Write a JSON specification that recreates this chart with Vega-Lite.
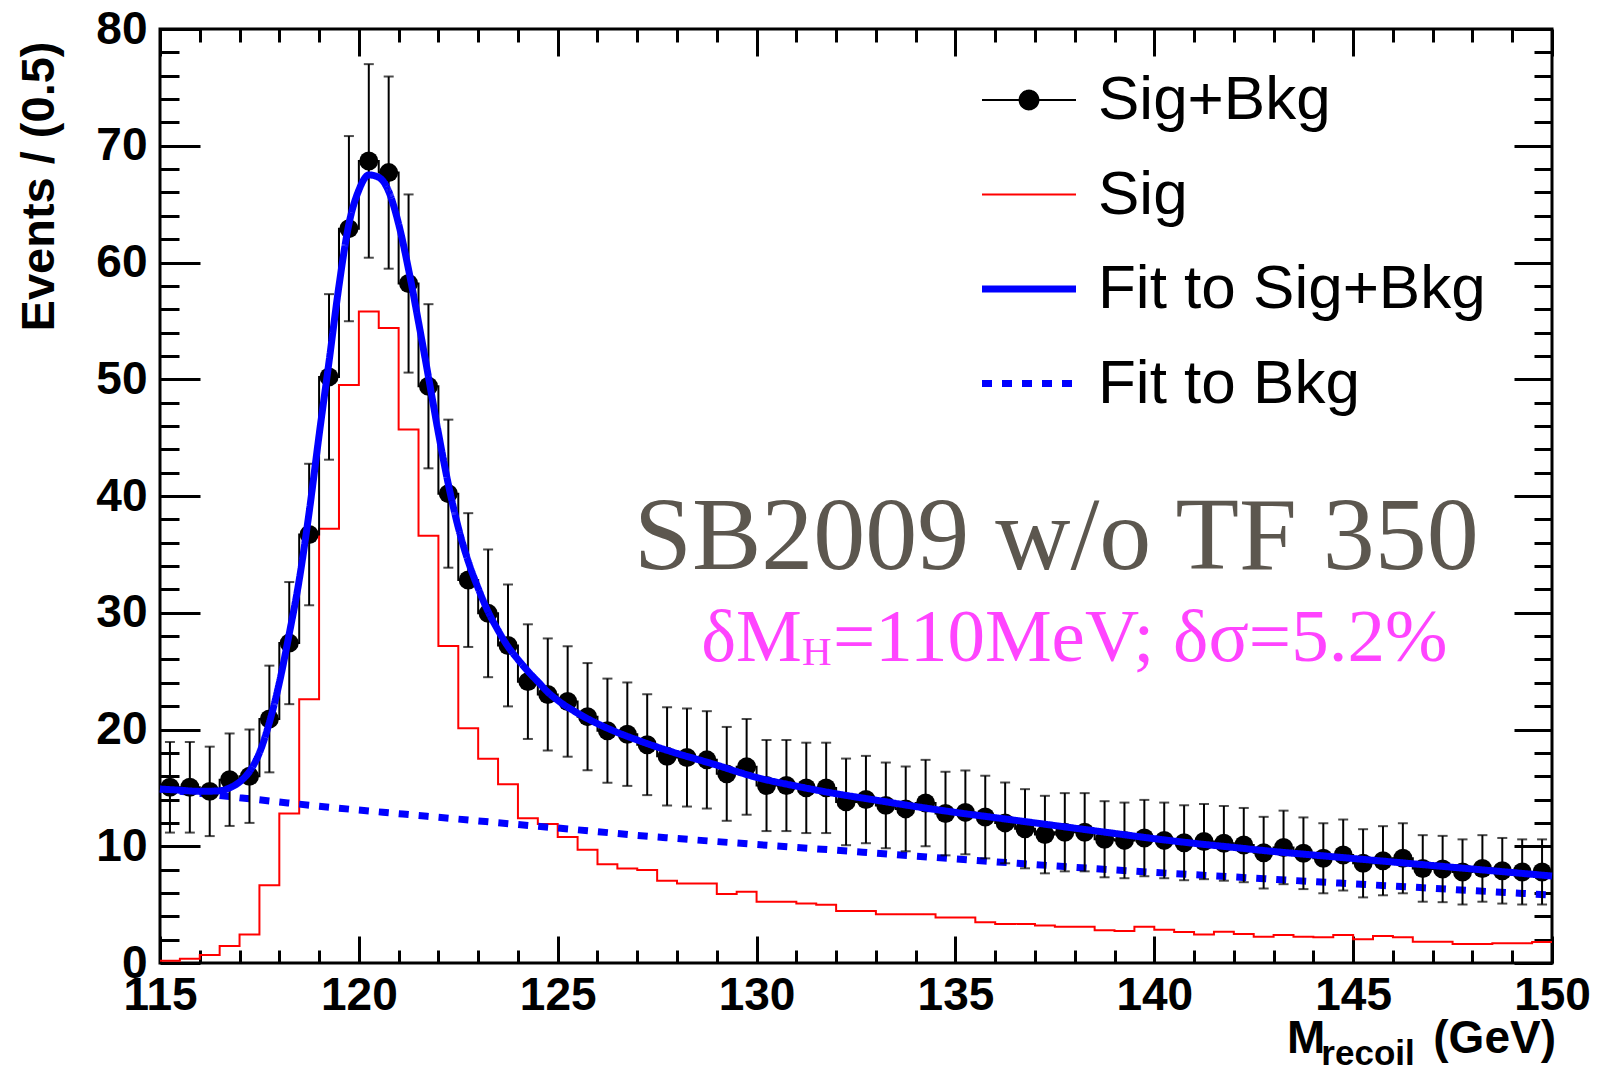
{
  "$schema": "https://vega.github.io/schema/vega-lite/v6.json",
  "width": 1392,
  "height": 934,
  "autosize": "none",
  "padding": {"left": 160, "top": 29, "right": 55, "bottom": 110},
  "background": "white",
  "config": {
    "view": {"stroke": "black", "strokeWidth": 3, "fill": "white"},
    "axis": {"grid": false}
  },
  "datasets": {
    "pts": [
      {"m":115.25,"n":15.05,"err":3.88},{"m":115.75,"n":15.05,"err":3.88},{"m":116.25,"n":14.7,"err":3.83},{"m":116.75,"n":15.7,"err":3.96},
      {"m":117.25,"n":16.0,"err":4.0},{"m":117.75,"n":20.9,"err":4.57},{"m":118.25,"n":27.4,"err":5.23},{"m":118.75,"n":36.7,"err":6.06},
      {"m":119.25,"n":50.2,"err":7.09},{"m":119.75,"n":62.9,"err":7.93},{"m":120.25,"n":68.7,"err":8.29},{"m":120.75,"n":67.7,"err":8.23},
      {"m":121.25,"n":58.2,"err":7.63},{"m":121.75,"n":49.4,"err":7.03},{"m":122.25,"n":40.2,"err":6.34},{"m":122.75,"n":32.8,"err":5.73},
      {"m":123.25,"n":29.95,"err":5.47},{"m":123.75,"n":27.2,"err":5.22},{"m":124.25,"n":24.1,"err":4.91},{"m":124.75,"n":23.0,"err":4.8},
      {"m":125.25,"n":22.4,"err":4.73},{"m":125.75,"n":21.1,"err":4.59},{"m":126.25,"n":19.9,"err":4.46},{"m":126.75,"n":19.6,"err":4.43},
      {"m":127.25,"n":18.7,"err":4.32},{"m":127.75,"n":17.7,"err":4.21},{"m":128.25,"n":17.6,"err":4.2},{"m":128.75,"n":17.4,"err":4.17},
      {"m":129.25,"n":16.2,"err":4.02},{"m":129.75,"n":16.8,"err":4.1},{"m":130.25,"n":15.2,"err":3.9},{"m":130.75,"n":15.2,"err":3.9},
      {"m":131.25,"n":15.0,"err":3.87},{"m":131.75,"n":15.0,"err":3.87},{"m":132.25,"n":13.8,"err":3.71},{"m":132.75,"n":14.0,"err":3.74},
      {"m":133.25,"n":13.5,"err":3.67},{"m":133.75,"n":13.2,"err":3.63},{"m":134.25,"n":13.7,"err":3.7},{"m":134.75,"n":12.8,"err":3.58},
      {"m":135.25,"n":12.9,"err":3.59},{"m":135.75,"n":12.5,"err":3.54},{"m":136.25,"n":12.0,"err":3.46},{"m":136.75,"n":11.5,"err":3.39},
      {"m":137.25,"n":11.0,"err":3.32},{"m":137.75,"n":11.2,"err":3.35},{"m":138.25,"n":11.2,"err":3.35},{"m":138.75,"n":10.6,"err":3.26},
      {"m":139.25,"n":10.5,"err":3.24},{"m":139.75,"n":10.7,"err":3.27},{"m":140.25,"n":10.5,"err":3.24},{"m":140.75,"n":10.3,"err":3.21},
      {"m":141.25,"n":10.4,"err":3.22},{"m":141.75,"n":10.25,"err":3.2},{"m":142.25,"n":10.1,"err":3.18},{"m":142.75,"n":9.45,"err":3.07},
      {"m":143.25,"n":9.9,"err":3.15},{"m":143.75,"n":9.4,"err":3.07},{"m":144.25,"n":8.97,"err":3.0},{"m":144.75,"n":9.25,"err":3.04},
      {"m":145.25,"n":8.54,"err":2.92},{"m":145.75,"n":8.76,"err":2.96},{"m":146.25,"n":8.97,"err":3.0},{"m":146.75,"n":8.1,"err":2.85},
      {"m":147.25,"n":8.05,"err":2.84},{"m":147.75,"n":7.8,"err":2.79},{"m":148.25,"n":8.1,"err":2.85},{"m":148.75,"n":7.9,"err":2.81},
      {"m":149.25,"n":7.8,"err":2.79},{"m":149.75,"n":7.8,"err":2.79}
    ],
    "sig": [
      {"lo":115.0,"s":0.2},{"lo":115.5,"s":0.37},{"lo":116.0,"s":0.68},{"lo":116.5,"s":1.46},{"lo":117.0,"s":2.45},{"lo":117.5,"s":6.65},
      {"lo":118.0,"s":12.8},{"lo":118.5,"s":22.6},{"lo":119.0,"s":37.2},{"lo":119.5,"s":49.5},{"lo":120.0,"s":55.8},{"lo":120.5,"s":54.4},
      {"lo":121.0,"s":45.7},{"lo":121.5,"s":36.6},{"lo":122.0,"s":27.15},{"lo":122.5,"s":20.1},{"lo":123.0,"s":17.5},{"lo":123.5,"s":15.3},
      {"lo":124.0,"s":12.4},{"lo":124.5,"s":11.9},{"lo":125.0,"s":10.8},{"lo":125.5,"s":9.7},{"lo":126.0,"s":8.45},{"lo":126.5,"s":8.1},
      {"lo":127.0,"s":7.97},{"lo":127.5,"s":7.05},{"lo":128.0,"s":6.8},{"lo":128.5,"s":6.8},{"lo":129.0,"s":5.9},{"lo":129.5,"s":6.1},
      {"lo":130.0,"s":5.25},{"lo":130.5,"s":5.25},{"lo":131.0,"s":5.1},{"lo":131.5,"s":5.0},{"lo":132.0,"s":4.45},{"lo":132.5,"s":4.45},
      {"lo":133.0,"s":4.17},{"lo":133.5,"s":4.17},{"lo":134.0,"s":4.17},{"lo":134.5,"s":3.9},{"lo":135.0,"s":3.9},{"lo":135.5,"s":3.5},
      {"lo":136.0,"s":3.34},{"lo":136.5,"s":3.34},{"lo":137.0,"s":3.22},{"lo":137.5,"s":3.1},{"lo":138.0,"s":3.1},{"lo":138.5,"s":2.8},
      {"lo":139.0,"s":2.75},{"lo":139.5,"s":3.1},{"lo":140.0,"s":2.85},{"lo":140.5,"s":2.65},{"lo":141.0,"s":2.45},{"lo":141.5,"s":2.68},
      {"lo":142.0,"s":2.48},{"lo":142.5,"s":2.25},{"lo":143.0,"s":2.4},{"lo":143.5,"s":2.25},{"lo":144.0,"s":2.2},{"lo":144.5,"s":2.4},
      {"lo":145.0,"s":2.03},{"lo":145.5,"s":2.31},{"lo":146.0,"s":2.2},{"lo":146.5,"s":1.83},{"lo":147.0,"s":1.83},{"lo":147.5,"s":1.63},
      {"lo":148.0,"s":1.63},{"lo":148.5,"s":1.69},{"lo":149.0,"s":1.69},{"lo":149.5,"s":1.8},{"lo":150.0,"s":1.8}
    ],
    "fit": [
      {"m":115,"f":14.9},{"m":115.5,"f":14.8},{"m":116,"f":14.7},{"m":116.5,"f":14.75},{"m":116.75,"f":15.0},{"m":117,"f":15.5},
      {"m":117.25,"f":16.4},{"m":117.5,"f":18.0},{"m":117.75,"f":20.6},{"m":118,"f":24.0},{"m":118.25,"f":28.2},{"m":118.5,"f":32.8},
      {"m":118.75,"f":38.6},{"m":119,"f":45.2},{"m":119.25,"f":51.5},{"m":119.5,"f":58.0},{"m":119.75,"f":63.3},{"m":120,"f":66.2},
      {"m":120.25,"f":67.5},{"m":120.5,"f":67.3},{"m":120.75,"f":66.1},{"m":121,"f":63.3},{"m":121.25,"f":59.4},{"m":121.5,"f":54.9},
      {"m":121.75,"f":50.2},{"m":122,"f":45.4},{"m":122.25,"f":41.0},{"m":122.5,"f":37.3},{"m":122.75,"f":34.4},{"m":123,"f":32.1},
      {"m":123.25,"f":30.1},{"m":123.5,"f":28.5},{"m":123.75,"f":27.1},{"m":124,"f":26.0},{"m":124.25,"f":25.0},{"m":124.5,"f":24.1},
      {"m":124.75,"f":23.2},{"m":125,"f":22.5},{"m":125.5,"f":21.4},{"m":126,"f":20.5},{"m":126.5,"f":19.75},{"m":127,"f":19.1},
      {"m":127.5,"f":18.5},{"m":128,"f":17.95},{"m":128.5,"f":17.45},{"m":129,"f":16.95},{"m":129.5,"f":16.4},{"m":130,"f":15.9},
      {"m":131,"f":15.15},{"m":132,"f":14.5},{"m":133,"f":13.95},{"m":134,"f":13.4},{"m":135,"f":12.9},{"m":136,"f":12.45},
      {"m":137,"f":12.0},{"m":138,"f":11.55},{"m":139,"f":11.1},{"m":140,"f":10.65},{"m":141,"f":10.25},{"m":142,"f":9.9},
      {"m":143,"f":9.55},{"m":144,"f":9.25},{"m":145,"f":8.95},{"m":146,"f":8.65},{"m":147,"f":8.35},{"m":148,"f":8.05},
      {"m":149,"f":7.75},{"m":150,"f":7.45}
    ],
    "bkg": [
      {"m":115,"b":14.9},{"m":116,"b":14.53},{"m":117,"b":14.16},{"m":118,"b":13.79},{"m":119,"b":13.43},{"m":120,"b":13.1},
      {"m":121,"b":12.79},{"m":122,"b":12.48},{"m":123,"b":12.17},{"m":124,"b":11.86},{"m":125,"b":11.56},{"m":126,"b":11.25},
      {"m":127,"b":10.93},{"m":128,"b":10.66},{"m":129,"b":10.4},{"m":130,"b":10.15},{"m":131,"b":9.9},{"m":132,"b":9.66},
      {"m":133,"b":9.41},{"m":134,"b":9.16},{"m":135,"b":8.91},{"m":136,"b":8.67},{"m":137,"b":8.43},{"m":138,"b":8.2},
      {"m":139,"b":7.97},{"m":140,"b":7.76},{"m":141,"b":7.56},{"m":142,"b":7.37},{"m":143,"b":7.17},{"m":144,"b":6.97},
      {"m":145,"b":6.78},{"m":146,"b":6.59},{"m":147,"b":6.4},{"m":148,"b":6.2},{"m":149,"b":6.01},{"m":150,"b":5.82}
    ],
    "one": [{}]
  },
  "layer": [
    {
      "data": {"name": "sig"},
      "mark": {"type": "line", "interpolate": "step-after", "strokeWidth": 2},
      "encoding": {
        "x": {"field": "lo", "type": "quantitative",
          "scale": {"domain": [115, 150], "nice": false, "zero": false},
          "axis": {"orient": "bottom", "title": null, "domain": false, "grid": false,
            "values": [115,116,117,118,119,120,121,122,123,124,125,126,127,128,129,130,131,132,133,134,135,136,137,138,139,140,141,142,143,144,145,146,147,148,149,150],
            "tickColor": "black", "tickWidth": 3,
            "tickSize": {"condition": {"test": "datum.value % 5 === 0", "value": -27}, "value": -13},
            "labelExpr": "datum.value % 5 === 0 ? datum.label : ''",
            "labelFont": "Liberation Sans", "labelFontWeight": "bold", "labelFontSize": 46, "labelColor": "black",
            "labelPadding": 37, "labelOverlap": false, "labelFlush": false, "labelBound": false}},
        "y": {"field": "s", "type": "quantitative",
          "scale": {"domain": [0, 80], "nice": false, "zero": false},
          "axis": {"orient": "left", "domain": false, "grid": false,
            "values": [0,2,4,6,8,10,12,14,16,18,20,22,24,26,28,30,32,34,36,38,40,42,44,46,48,50,52,54,56,58,60,62,64,66,68,70,72,74,76,78,80],
            "tickColor": "black", "tickWidth": 3,
            "tickSize": {"condition": {"test": "datum.value % 10 === 0", "value": -40}, "value": -19},
            "labelExpr": "datum.value % 10 === 0 ? datum.label : ''",
            "labelFont": "Liberation Sans", "labelFontWeight": "bold", "labelFontSize": 46, "labelColor": "black",
            "labelPadding": 53, "labelOverlap": false, "labelFlush": false, "labelBound": false,
            "title": "Events / (0.5)", "titleFont": "Liberation Sans", "titleFontWeight": "bold", "titleFontSize": 47,
            "titleColor": "black", "titleAngle": 270, "titleAlign": "right", "titleBaseline": "alphabetic",
            "titleX": -107, "titleY": 12}},
        "color": {"datum": "Sig", "type": "nominal",
          "scale": {"domain": ["Sig+Bkg", "Sig", "Fit to Sig+Bkg", "Fit to Bkg"], "range": ["black", "#ff0000", "#0000ff", "#0000ff"]},
          "legend": {"orient": "none", "legendX": 838, "legendY": 40, "title": null, "symbolType": "stroke",
            "symbolSize": 8836, "labelFont": "Liberation Sans", "labelFontSize": 62, "labelColor": "black",
            "labelOffset": 38, "labelLimit": 0, "rowPadding": 32.5, "padding": 0, "labelBaseline": "middle",
            "encode": {"symbols": {"update": {
              "shape": {"signal": "datum.value === 'Sig+Bkg' ? 'M-1,0L1,0M0.2,0A0.2,0.2,0,1,1,-0.2,0A0.2,0.2,0,1,1,0.2,0Z' : 'stroke'"},
              "fill": {"signal": "datum.value === 'Sig+Bkg' ? 'black' : 'transparent'"},
              "strokeWidth": {"signal": "datum.value === 'Fit to Sig+Bkg' ? 7 : (datum.value === 'Fit to Bkg' ? 7 : 2)"}
            }}}}},
        "strokeDash": {"datum": "Sig", "type": "nominal",
          "scale": {"domain": ["Sig+Bkg", "Sig", "Fit to Sig+Bkg", "Fit to Bkg"], "range": [[1, 0], [1, 0], [1, 0], [10, 10]]}}
      }
    },
    {
      "data": {"name": "bkg"},
      "mark": {"type": "line", "interpolate": "monotone", "strokeWidth": 7},
      "encoding": {
        "x": {"field": "m", "type": "quantitative",
          "axis": {"orient": "top", "title": null, "domain": false, "grid": false, "labels": false,
            "values": [115,116,117,118,119,120,121,122,123,124,125,126,127,128,129,130,131,132,133,134,135,136,137,138,139,140,141,142,143,144,145,146,147,148,149,150],
            "tickColor": "black", "tickWidth": 3,
            "tickSize": {"condition": {"test": "datum.value % 5 === 0", "value": -27}, "value": -13}}},
        "y": {"field": "b", "type": "quantitative",
          "axis": {"orient": "right", "title": null, "domain": false, "grid": false, "labels": false,
            "values": [0,2,4,6,8,10,12,14,16,18,20,22,24,26,28,30,32,34,36,38,40,42,44,46,48,50,52,54,56,58,60,62,64,66,68,70,72,74,76,78,80],
            "tickColor": "black", "tickWidth": 3,
            "tickSize": {"condition": {"test": "datum.value % 10 === 0", "value": -38}, "value": -18}}},
        "color": {"datum": "Fit to Bkg", "type": "nominal",
          "scale": {"domain": ["Sig+Bkg", "Sig", "Fit to Sig+Bkg", "Fit to Bkg"], "range": ["black", "#ff0000", "#0000ff", "#0000ff"]}},
        "strokeDash": {"datum": "Fit to Bkg", "type": "nominal",
          "scale": {"domain": ["Sig+Bkg", "Sig", "Fit to Sig+Bkg", "Fit to Bkg"], "range": [[1, 0], [1, 0], [1, 0], [10, 10]]}}
      }
    },
    {
      "data": {"name": "pts"},
      "mark": {"type": "line", "interpolate": "step", "strokeWidth": 2},
      "encoding": {
        "x": {"field": "m", "type": "quantitative", "axis": null},
        "y": {"field": "n", "type": "quantitative", "axis": null},
        "color": {"datum": "Sig+Bkg", "type": "nominal",
          "scale": {"domain": ["Sig+Bkg", "Sig", "Fit to Sig+Bkg", "Fit to Bkg"], "range": ["black", "#ff0000", "#0000ff", "#0000ff"]}},
        "strokeDash": {"datum": "Sig+Bkg", "type": "nominal",
          "scale": {"domain": ["Sig+Bkg", "Sig", "Fit to Sig+Bkg", "Fit to Bkg"], "range": [[1, 0], [1, 0], [1, 0], [10, 10]]}}
      }
    },
    {
      "data": {"name": "pts"},
      "mark": {"type": "errorbar", "ticks": {"size": 10, "thickness": 2, "color": "black"}, "rule": {"strokeWidth": 2, "color": "black"}},
      "encoding": {
        "x": {"field": "m", "type": "quantitative", "axis": null},
        "y": {"field": "n", "type": "quantitative", "axis": null},
        "yError": {"field": "err"}
      }
    },
    {
      "data": {"name": "pts"},
      "mark": {"type": "circle", "size": 360, "color": "black", "opacity": 1},
      "encoding": {
        "x": {"field": "m", "type": "quantitative", "axis": null},
        "y": {"field": "n", "type": "quantitative", "axis": null}
      }
    },
    {
      "data": {"name": "fit"},
      "mark": {"type": "line", "interpolate": "monotone", "strokeWidth": 7},
      "encoding": {
        "x": {"field": "m", "type": "quantitative", "axis": null},
        "y": {"field": "f", "type": "quantitative", "axis": null},
        "color": {"datum": "Fit to Sig+Bkg", "type": "nominal",
          "scale": {"domain": ["Sig+Bkg", "Sig", "Fit to Sig+Bkg", "Fit to Bkg"], "range": ["black", "#ff0000", "#0000ff", "#0000ff"]}},
        "strokeDash": {"datum": "Fit to Sig+Bkg", "type": "nominal",
          "scale": {"domain": ["Sig+Bkg", "Sig", "Fit to Sig+Bkg", "Fit to Bkg"], "range": [[1, 0], [1, 0], [1, 0], [10, 10]]}}
      }
    },
    {
      "data": {"name": "one"},
      "mark": {"type": "text", "text": "SB2009 w/o TF 350", "font": "Liberation Serif", "fontSize": 104, "color": "#5c574f", "align": "left", "baseline": "alphabetic"},
      "encoding": {
        "x": {"datum": 126.92, "type": "quantitative", "axis": null},
        "y": {"datum": 33.75, "type": "quantitative", "axis": null}
      }
    },
    {
      "data": {"name": "one"},
      "mark": {"type": "text", "text": "δM", "font": "Liberation Serif", "fontSize": 74, "color": "#ff44ff", "align": "right", "baseline": "alphabetic"},
      "encoding": {
        "x": {"datum": 131.14, "type": "quantitative", "axis": null},
        "y": {"datum": 25.87, "type": "quantitative", "axis": null}
      }
    },
    {
      "data": {"name": "one"},
      "mark": {"type": "text", "text": "H", "font": "Liberation Serif", "fontSize": 41, "color": "#ff44ff", "align": "left", "baseline": "alphabetic", "dy": 4},
      "encoding": {
        "x": {"datum": 131.14, "type": "quantitative", "axis": null},
        "y": {"datum": 25.87, "type": "quantitative", "axis": null}
      }
    },
    {
      "data": {"name": "one"},
      "mark": {"type": "text", "text": "=110MeV; δσ=5.2%", "font": "Liberation Serif", "fontSize": 75, "color": "#ff44ff", "align": "left", "baseline": "alphabetic", "dx": 31},
      "encoding": {
        "x": {"datum": 131.14, "type": "quantitative", "axis": null},
        "y": {"datum": 25.87, "type": "quantitative", "axis": null}
      }
    },
    {
      "data": {"name": "one"},
      "mark": {"type": "text", "text": "M", "font": "Liberation Sans", "fontWeight": "bold", "fontSize": 46, "color": "black", "align": "right", "baseline": "alphabetic"},
      "encoding": {
        "x": {"datum": 144.3, "type": "quantitative", "axis": null},
        "y": {"datum": -7.71, "type": "quantitative", "axis": null}
      }
    },
    {
      "data": {"name": "one"},
      "mark": {"type": "text", "text": "recoil", "font": "Liberation Sans", "fontWeight": "bold", "fontSize": 35, "color": "black", "align": "left", "baseline": "alphabetic", "dy": 12},
      "encoding": {
        "x": {"datum": 144.2, "type": "quantitative", "axis": null},
        "y": {"datum": -7.71, "type": "quantitative", "axis": null}
      }
    },
    {
      "data": {"name": "one"},
      "mark": {"type": "text", "text": "(GeV)", "font": "Liberation Sans", "fontWeight": "bold", "fontSize": 46, "color": "black", "align": "right", "baseline": "alphabetic"},
      "encoding": {
        "x": {"datum": 150.1, "type": "quantitative", "axis": null},
        "y": {"datum": -7.71, "type": "quantitative", "axis": null}
      }
    }
  ],
  "resolve": {"axis": {"x": "independent", "y": "independent"}}
}
